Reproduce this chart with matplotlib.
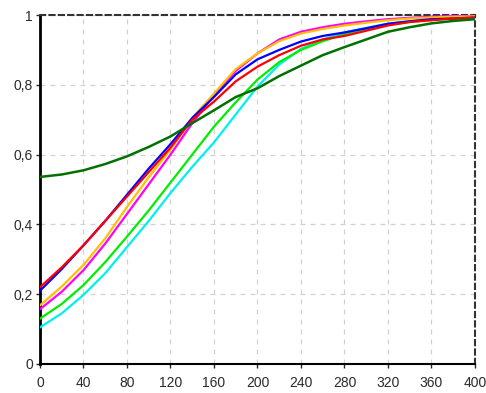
import numpy as np
import matplotlib.pyplot as plt
from matplotlib.ticker import FuncFormatter

plt.rcParams['font.family'] = ['Liberation Sans', 'DejaVu Sans']

# curves sampled every 20 units
x = np.arange(0, 401, 20)

cyan = [0.105, 0.145, 0.198, 0.26, 0.335, 0.41, 0.49, 0.565, 0.635, 0.715, 0.795,
        0.858, 0.903, 0.93, 0.95, 0.963, 0.975, 0.982, 0.988, 0.991, 0.993]
green = [0.13, 0.172, 0.226, 0.292, 0.365, 0.44, 0.52, 0.60, 0.68, 0.75, 0.815,
         0.865, 0.9, 0.925, 0.945, 0.96, 0.972, 0.98, 0.986, 0.99, 0.993]
magenta = [0.157, 0.207, 0.269, 0.345, 0.43, 0.515, 0.60, 0.69, 0.77, 0.84, 0.89,
           0.93, 0.952, 0.965, 0.975, 0.982, 0.988, 0.992, 0.995, 0.997, 0.998]
orange = [0.168, 0.222, 0.284, 0.36, 0.45, 0.535, 0.615, 0.705, 0.775, 0.845, 0.89,
          0.925, 0.947, 0.96, 0.97, 0.978, 0.985, 0.99, 0.993, 0.995, 0.996]
blue = [0.21, 0.272, 0.34, 0.41, 0.485, 0.56, 0.63, 0.705, 0.765, 0.83, 0.873,
        0.90, 0.924, 0.94, 0.95, 0.962, 0.975, 0.982, 0.988, 0.99, 0.993]
red = [0.22, 0.277, 0.34, 0.41, 0.48, 0.55, 0.62, 0.70, 0.752, 0.81, 0.852,
       0.885, 0.912, 0.93, 0.94, 0.955, 0.97, 0.98, 0.985, 0.99, 0.992]
dkgreen = [0.536, 0.543, 0.555, 0.573, 0.595, 0.622, 0.652, 0.69, 0.727, 0.765, 0.79,
           0.825, 0.855, 0.885, 0.908, 0.93, 0.952, 0.965, 0.976, 0.983, 0.988]

xticks = np.arange(0, 401, 40)
yticks = [0, 0.2, 0.4, 0.6, 0.8, 1.0]

fig = plt.figure(figsize=(4.86, 3.93), dpi=100)
ax = fig.add_axes([0.0823, 0.0738, 0.8950, 0.8880])

for y, c, w in [(cyan, '#00f0f0', 1.6), (green, '#00ee00', 1.6), (magenta, '#ff00ff', 1.6),
                (orange, '#ffc000', 1.6), (blue, '#0000ff', 1.6), (red, '#ff0000', 1.6),
                (dkgreen, '#007000', 1.8)]:
    ax.plot(x, y, color=c, lw=w, zorder=3)

ax.set_xlim(0, 400)
ax.set_ylim(0, 1)
ax.set_xticks(xticks)
ax.set_yticks(yticks)
ax.yaxis.set_major_formatter(FuncFormatter(lambda v, p: ('%g' % v).replace('.', ',')))
ax.tick_params(labelsize=10, length=3, width=1, colors='#2a2a2a')
ax.tick_params(axis='x', pad=6)
ax.tick_params(axis='y', pad=2)

ax.grid(True, color='#d2d2d2', ls=(0, (4, 4)), lw=0.9)

ax.spines['left'].set_linewidth(2)
ax.spines['left'].set_color('black')
ax.spines['bottom'].set_linewidth(1.5)
ax.spines['bottom'].set_color('black')
for s in ['top', 'right']:
    ax.spines[s].set_linestyle((0, (2.5, 2)))
    ax.spines[s].set_linewidth(1.5)
    ax.spines[s].set_color('#333333')

fig.savefig('out.png', dpi=100)
